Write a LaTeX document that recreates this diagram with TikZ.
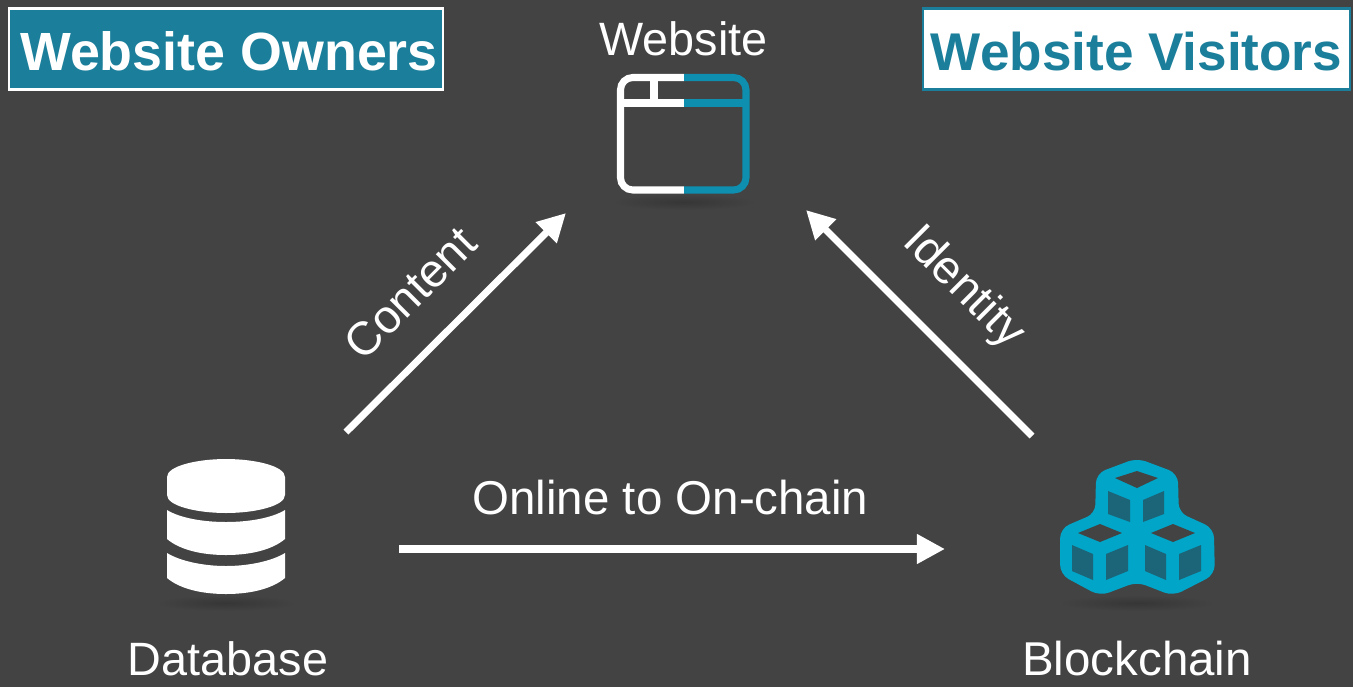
\documentclass[tikz,border=0pt]{standalone}
\usepackage{fontspec}
\setmainfont{Liberation Sans}
\usetikzlibrary{arrows.meta}
\definecolor{bgdark}{HTML}{434343}
\definecolor{shadowdark}{HTML}{363636}
\definecolor{boxteal}{HTML}{1B7F9B}
\definecolor{iconblue}{HTML}{0E8FB0}
\definecolor{cubeblue}{HTML}{00A5C8}
\definecolor{cubeface}{HTML}{1C6478}
\tikzset{
  label/.style={text=white,font=\fontsize{13.3pt}{16pt}\selectfont,anchor=base,inner sep=0pt},
  widelabel/.style={label,font=\fontsize{13.5pt}{16pt}\selectfont},
  titlebox/.style={minimum height=0.81cm,inner sep=0pt,text height=0.42cm,text depth=0pt,line width=0.6pt},
  flow/.style={white,line width=2pt,-{Triangle[length=0.28cm,width=0.28cm]}},
  windowline/.style={line width=2pt,rounded corners=3.5pt}
}
\begin{document}
\begin{tikzpicture}[x=0.01cm,y=-0.01cm]
   \fill[bgdark] (0,0) rectangle (1353,687);
   \useasboundingbox (0,0) rectangle (1353,687);
   % shadows
   \shade[inner color=shadowdark,outer color=bgdark] (684,202) ellipse (72 and 8);
   \shade[inner color=shadowdark,outer color=bgdark] (226,603) ellipse (70 and 8);
   \shade[inner color=shadowdark,outer color=bgdark] (1137,603) ellipse (78 and 8);
   % titles
   \node[titlebox,draw=white,fill=boxteal,text=white,minimum width=4.34cm,font=\fontsize{15.3pt}{18pt}\selectfont\bfseries] (owners) at (226,49) {\hspace{0.06cm}Website Owners};
   \node[titlebox,draw=boxteal,fill=white,text=boxteal,minimum width=4.27cm,font=\fontsize{15.1pt}{18pt}\selectfont\bfseries] (visitors) at (1136.5,49) {Website Visitors};
   % website
   \node[label] (website) at (683.5,55) {Website};
   \draw[windowline,white] (684,77.5) -| (620.5,190) -- (684,190);
   \draw[windowline,iconblue] (684,77.5) -| (746,190) -- (684,190);
   \draw[white,line width=2pt] (620.5,103) -- (684,103) (654,77.5) -- (654,103);
   \draw[iconblue,line width=2pt] (684,103) -- (746,103);
   % database
   \fill[white] (167,477) .. controls (167,466) and (197,459) .. (226,459) .. controls (255,459) and (285,466) .. (285,477) -- (285,495) .. controls (285,506) and (255,513) .. (226,513) .. controls (197,513) and (167,506) .. (167,495) -- cycle;
   \fill[white] (167,510) .. controls (180,518) and (203,522) .. (226,522) .. controls (249,522) and (272,518) .. (285,510) -- (285,539) .. controls (272,550) and (250,555) .. (226,555) .. controls (202,555) and (180,550) .. (167,539) -- cycle;
   \fill[white] (167,553) .. controls (180,561) and (203,566) .. (226,566) .. controls (249,566) and (272,561) .. (285,553) -- (285,578) .. controls (272,589) and (250,594) .. (226,594) .. controls (202,594) and (180,589) .. (167,578) -- cycle;
   \node[label] (database) at (228,675) {Database};
   % blockchain
   \filldraw[cubeblue,line width=0.5pt,rounded corners=2.6pt,line join=round] (1137,459)--(1177,474)--(1178,513)--(1213,529)--(1214,574)--(1173,595)--(1137,581)--(1100,595)--(1061,574)--(1061,529)--(1096,514)--(1097,474)--cycle;
   \fill[bgdark] (1115,478)--(1137,471)--(1158,478)--(1137,488)--cycle;
   \fill[cubeface] (1108,491)--(1130,500)--(1130,522)--(1108,514)--cycle;
   \fill[cubeface] (1143,500)--(1164,491)--(1164,514)--(1143,522)--cycle;
   \foreach \dx in {0,73}{
     \fill[bgdark,shift={(\dx,0)}] (1078,533)--(1100,524)--(1122,533)--(1100,542)--cycle;
     \fill[cubeface,shift={(\dx,0)}] (1072,545)--(1093,554)--(1093,580)--(1072,571)--cycle;
     \fill[cubeface,shift={(\dx,0)}] (1106,554)--(1128,545)--(1128,571)--(1106,580)--cycle;
   }
   \node[widelabel] (blockchain) at (1137,675) {Blockchain};
   % connectors
   \coordinate (contentstart) at (346,432);
   \coordinate (contentend) at (566,213);
   \coordinate (identitystart) at (1032,436);
   \coordinate (identityend) at (806,210);
   \coordinate (onlinestart) at (399,549);
   \coordinate (onlineend) at (945,549);
   \draw[flow] (contentstart) -- (contentend);
   \draw[flow] (identitystart) -- (identityend);
   \draw[flow] (onlinestart) -- (onlineend);
   \node[label,anchor=center,rotate=45] (content) at (410,293) {Content};
   \node[label,anchor=center,rotate=-45] (identity) at (963,288) {Identity};
   \node[widelabel] (online) at (670.5,514) {Online to On-chain};
\end{tikzpicture}
\end{document}
